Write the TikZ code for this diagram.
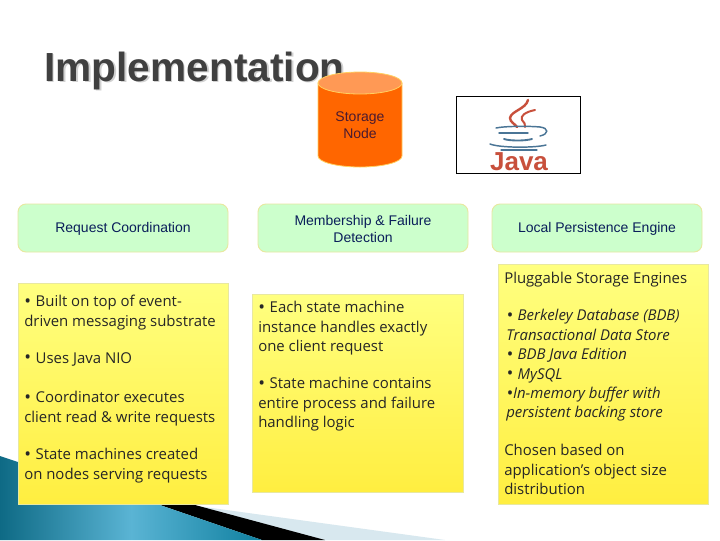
\documentclass[tikz,border=0pt]{standalone}
\usepackage{fontspec}
\setmainfont{Liberation Sans}
\newfontfamily\bodyfont{Open Sans}
\usetikzlibrary{shapes.geometric}
\definecolor{greenfill}{HTML}{CCFFCC}
\definecolor{boxedge}{HTML}{E8E8A0}
\definecolor{yellowtop}{HTML}{FFFF80}
\definecolor{yellowbot}{HTML}{FFEE40}
\definecolor{orangebody}{HTML}{FF6600}
\definecolor{orangetop}{HTML}{FF9955}
\definecolor{orangeedge}{HTML}{FFD060}
\definecolor{titlegray}{HTML}{404040}
\definecolor{labelblue}{HTML}{0A1E5A}
\definecolor{nodetext}{HTML}{4A1A30}
\definecolor{javared}{HTML}{C8503C}
\definecolor{javablue}{HTML}{4A7596}
\definecolor{palesteel}{HTML}{D8E8EF}
\definecolor{tealdark}{HTML}{0E6A85}
\definecolor{teallight}{HTML}{5AB4D4}
\definecolor{tealmid}{HTML}{1080A0}
\newcommand{\bul}{{\fontsize{13.5}{14.6}\selectfont\raisebox{-0.4pt}{•}}\hspace{3.5pt}}
\newcommand{\bulnosp}{{\fontsize{13.5}{14.6}\selectfont\raisebox{-0.4pt}{•}}}
\newcommand{\headstrut}{\rule{0pt}{9.6pt}}
\tikzset{
  headbox/.style={draw=boxedge,fill=greenfill,rounded corners=6pt,line width=0.7pt,
    minimum width=157.5pt,minimum height=36pt,align=center,inner sep=0pt,
    text=labelblue,font=\fontsize{10.5}{12.8}\selectfont},
  notebox/.style={draw=boxedge,line width=0.5pt,top color=yellowtop,bottom color=yellowbot,
    minimum width=157.5pt,anchor=north west,inner sep=0pt},
  notetext/.style={anchor=north west,align=left,inner sep=0pt,text=black!85,
    font=\bodyfont\fontsize{11.2}{14.6}\selectfont},
  javastroke/.style={draw=javablue,line width=1.1pt,line cap=round}
}
\begin{document}
\begin{tikzpicture}[x=0.75pt,y=-0.75pt]
\useasboundingbox (0,0) rectangle (720,540);
\fill[white] (0,0) rectangle (720,540);
% slide decoration
\fill[palesteel] (190,505) -- (445,540) -- (320,540) -- (195,506) -- cycle;
\fill[black] (157,504) -- (195,505) -- (325,540) -- (262,540) -- cycle;
\shade[left color=tealdark,right color=tealmid,middle color=teallight] (0,456) -- (18,462) -- (18,504) -- (157,504) -- (262,540) -- (0,540) -- cycle;
% title
\node[anchor=base west,inner sep=0pt,text=black!18,font=\bfseries\fontsize{30.5}{36}\selectfont] (titleshadow) at (45.5,82.5) {Implementation};
\node[anchor=base west,inner sep=0pt,text=titlegray,font=\bfseries\fontsize{30.5}{36}\selectfont] (title) at (44,81) {Implementation};
% cylinder
\path[draw=orangeedge,line width=0.6pt,fill=orangebody] (318,83) -- (318,156) arc[start angle=180,end angle=0,x radius=42,y radius=11] -- (402,83) -- cycle;
\path[draw=orangeedge,line width=0.6pt,fill=orangetop] (360,83) ellipse[x radius=42,y radius=11];
\node[align=center,inner sep=0pt,text=nodetext,font=\fontsize{10.5}{12.8}\selectfont] (storage) at (360,125) {Storage\\Node};
% java logo
\node[draw=black,line width=0.8pt,fill=white,minimum width=93pt,minimum height=58pt,inner sep=0pt] (javabox) at (518.5,135) {};
\node[inner sep=0pt,text=javared,font=\bfseries\fontsize{19.5}{20}\selectfont] (javaword) at (519,162) {Java};
\draw[draw=javared,line width=1.8pt,line cap=round] (528,100) .. controls (526,109) and (511,111) .. (510,118) .. controls (510,122) and (515,124) .. (517,127);
\draw[draw=javared,line width=1.5pt,line cap=round] (535,110) .. controls (525,112) and (520,116) .. (522,120) .. controls (524,123) and (526,124) .. (525,127);
\draw[javastroke] (496,128) .. controls (505,126) and (530,126) .. (540,127);
\draw[javastroke] (540,127) .. controls (549,128) and (549,134) .. (540,136);
\draw[javastroke] (499,133) -- (528,133);
\draw[javastroke,line width=1.4pt] (504,139) .. controls (510,141) and (525,141) .. (532,139);
\draw[javastroke] (490,144) .. controls (500,148) and (535,148) .. (546,145);
\draw[javastroke,line width=0.8pt] (501,150) -- (537,150);
% heading boxes
\node[headbox] (reqhead) at (123,228) {\headstrut Request Coordination};
\node[headbox] (memhead) at (363,228) {\headstrut Membership \& Failure\\Detection};
\node[headbox] (lochead) at (597,228) {\headstrut Local Persistence Engine};
% yellow boxes
\node[notebox,minimum height=165.75pt] (reqbox) at (18,283) {};
\node[notebox,minimum height=148.5pt,minimum width=158.25pt] (membox) at (252,294) {};
\node[notebox,minimum height=180pt] (locbox) at (498,264) {};
% yellow box texts
\node[notetext] (reqa) at (24,295) {\bul Built on top of event-\\driven messaging substrate};
\node[notetext] (reqb) at (24,352) {\bul Uses Java NIO};
\node[notetext] (reqc) at (24,391) {\bul Coordinator executes\\client read \& write requests};
\node[notetext] (reqd) at (24,448) {\bul State machines created\\on nodes serving requests};
\node[notetext] (mema) at (258,301) {\bul Each state machine\\instance handles exactly\\one client request};
\node[notetext] (memb) at (258,377) {\bul State machine contains\\entire process and failure\\handling logic};
\node[notetext] (loca) at (504,272) {Pluggable Storage Engines};
\node[notetext,font=\bodyfont\itshape\fontsize{11.2}{14.6}\selectfont] (locb) at (506,309) {\bul Berkeley Database (BDB)\\Transactional Data Store\\\bul BDB Java Edition\\\bul MySQL\\\bulnosp In-memory buffer with\\persistent backing store};
\node[notetext] (locc) at (504,444) {Chosen based on\\application’s object size\\distribution};
\end{tikzpicture}
\end{document}
